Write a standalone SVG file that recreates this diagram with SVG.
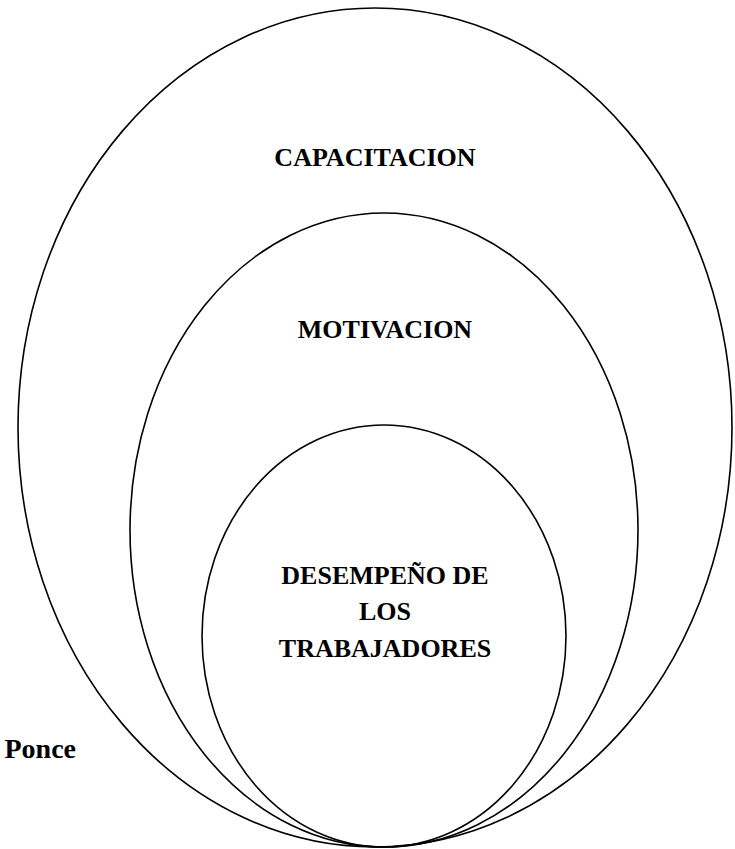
<svg xmlns="http://www.w3.org/2000/svg" width="735" height="849" viewBox="0 0 735 849">
<style>
.ring{fill:none;stroke:#000;stroke-width:1.6}
.lbl{font-family:"Liberation Serif","Times New Roman",serif;font-weight:bold;font-size:26px;fill:#000;text-anchor:middle}
</style>
<rect width="735" height="849" fill="#fff"/>
<g id="capacitacion">
<ellipse class="ring" cx="375" cy="427.5" rx="357" ry="419.5"/>
<text class="lbl" x="375" y="166">CAPACITACION</text>
</g>
<g id="motivacion">
<ellipse class="ring" cx="384" cy="530" rx="254" ry="317"/>
<text class="lbl" x="385" y="338">MOTIVACION</text>
</g>
<g id="desempeno">
<ellipse class="ring" cx="384" cy="636" rx="182" ry="211"/>
<text class="lbl" x="385" y="584">DESEMPEÑO DE</text>
<text class="lbl" x="385" y="620">LOS</text>
<text class="lbl" x="385" y="657">TRABAJADORES</text>
</g>
<g id="ponce">
<text class="lbl" x="76" y="758" style="text-anchor:end;font-size:28px">Ponce</text>
</g>
</svg>
